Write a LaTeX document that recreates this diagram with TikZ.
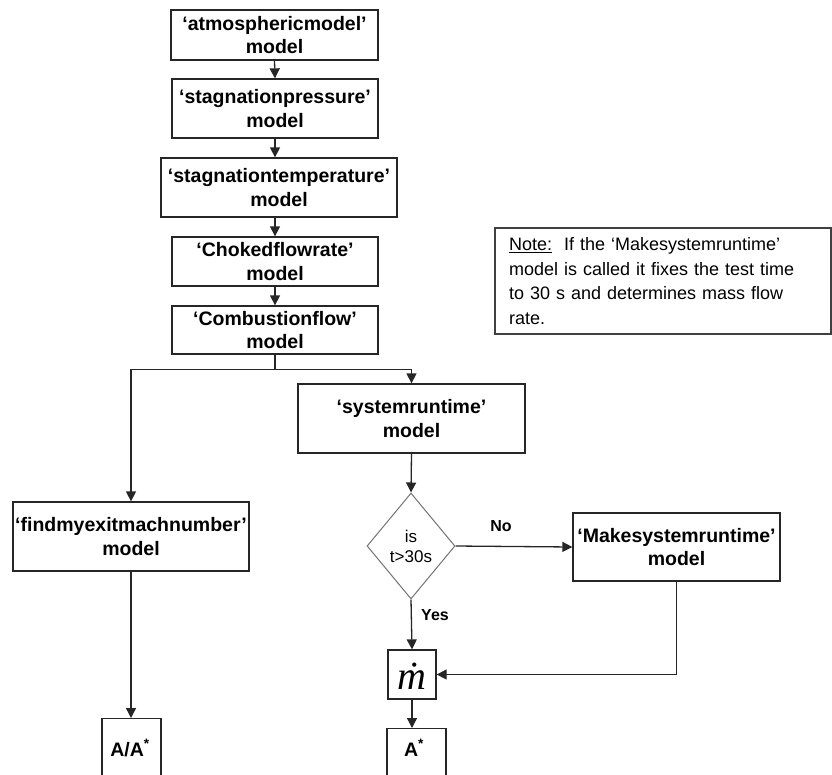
\documentclass[tikz,border=0pt]{standalone}
\usepackage{fontspec}
\setmainfont{Liberation Sans}
\newfontfamily\serifit{Liberation Serif}
\usetikzlibrary{shapes.geometric,arrows.meta}
\definecolor{lc}{HTML}{262626}
\begin{document}
\begin{tikzpicture}[x=1pt,y=-1pt,
  box/.style={draw=lc, line width=1.3pt, inner sep=0pt, align=center,
    font=\fontsize{19.5}{23.5}\selectfont\bfseries},
  arr/.style={draw=lc, line width=1.3pt, -{Triangle[length=10pt,width=10pt]}},
  ln/.style={draw=lc, line width=1.3pt},
  lbl/.style={font=\fontsize{16}{18}\selectfont\bfseries, inner sep=0pt},
  bigtxt/.style={font=\fontsize{19.5}{22}\selectfont\bfseries, inner sep=0pt}]
\useasboundingbox (0,0) rectangle (832,774);
\clip (0,0) rectangle (832,774);

\node[box, minimum width=207pt, minimum height=50pt] (b1) at (274.5,35) {‘atmosphericmodel’\\model};
\node[box, minimum width=206pt, minimum height=59pt] (b2) at (275,108.5) {‘stagnationpressure’\\model};
\node[box, minimum width=236pt, minimum height=59pt] (b3) at (279,187.5) {‘stagnationtemperature’\\model};
\node[box, minimum width=206pt, minimum height=49pt] (b4) at (275,261.5) {‘Chokedflowrate’\\model};
\node[box, minimum width=206pt, minimum height=48pt] (b5) at (275,330) {‘Combustionflow’\\model};

\node[box, minimum width=227pt, minimum height=69pt] (sys) at (411.5,418.5) {‘systemruntime’\\model};
\node[diamond, draw=black!55, line width=1pt, inner sep=0pt, minimum width=88pt, minimum height=106pt,
  align=center, font=\fontsize{17}{20}\selectfont] (dec) at (411,546) {is\\t>30s};
\node[box, minimum width=207pt, minimum height=68pt] (make) at (676.5,547) {‘Makesystemruntime’\\model};
\node[box, minimum width=48pt, minimum height=49pt] (mdot) at (412,674.5) {};
\node[inner sep=0pt, font=\serifit\fontsize{40}{40}\selectfont\itshape] (mdt) at (412,676) {\.{m}};
\node[box, anchor=north, minimum width=59pt, minimum height=80pt] (as) at (416.5,728) {};
\node[bigtxt] (ast) at (414,748) {A\textsuperscript{*}};

\node[box, minimum width=236pt, minimum height=69pt] (find) at (131,536.5) {‘findmyexitmachnumber’\\model};
\node[box, anchor=north, minimum width=59pt, minimum height=80pt] (aa) at (131.5,718) {};
\node[bigtxt] (aat) at (130,748) {A/A\textsuperscript{*}};

\node[draw=black!75, line width=1.3pt, minimum width=336pt, minimum height=106pt,
  text width=308pt, inner xsep=14pt, align=left, font=\fontsize{18}{24.5}\selectfont] (note) at (663,281)
  {\underline{Note:}\ \ If the ‘Makesystemruntime’\\model is called it fixes the test time\\to 30 s and determines mass flow\\rate.};

\draw[arr] (b1.south) -- (b2.north);
\draw[arr] (b2.south) -- (b2.south |- b3.north);
\draw[arr] (b3.south -| b4.north) -- (b4.north);
\draw[arr] (b4.south) -- (b5.north);
\draw[ln] (b5.south) -- ++(0,15) coordinate (br);
\draw[arr] (br) -| (find.north);
\draw[arr] (br) -| (sys.north);
\draw[arr] (sys.south) -- (dec.north);
\draw[arr] (dec.east) -- (make.west);
\node[lbl] (no) at (501,526) {No};
\draw[arr] (dec.south) -- (mdot.north);
\node[lbl] (yes) at (435,615) {Yes};
\draw[arr] (make.south) |- (mdot.east);
\draw[arr] (mdot.south) -- (mdot.south |- as.north);
\draw[arr] (find.south) -- (find.south |- aa.north);
\end{tikzpicture}
\end{document}
